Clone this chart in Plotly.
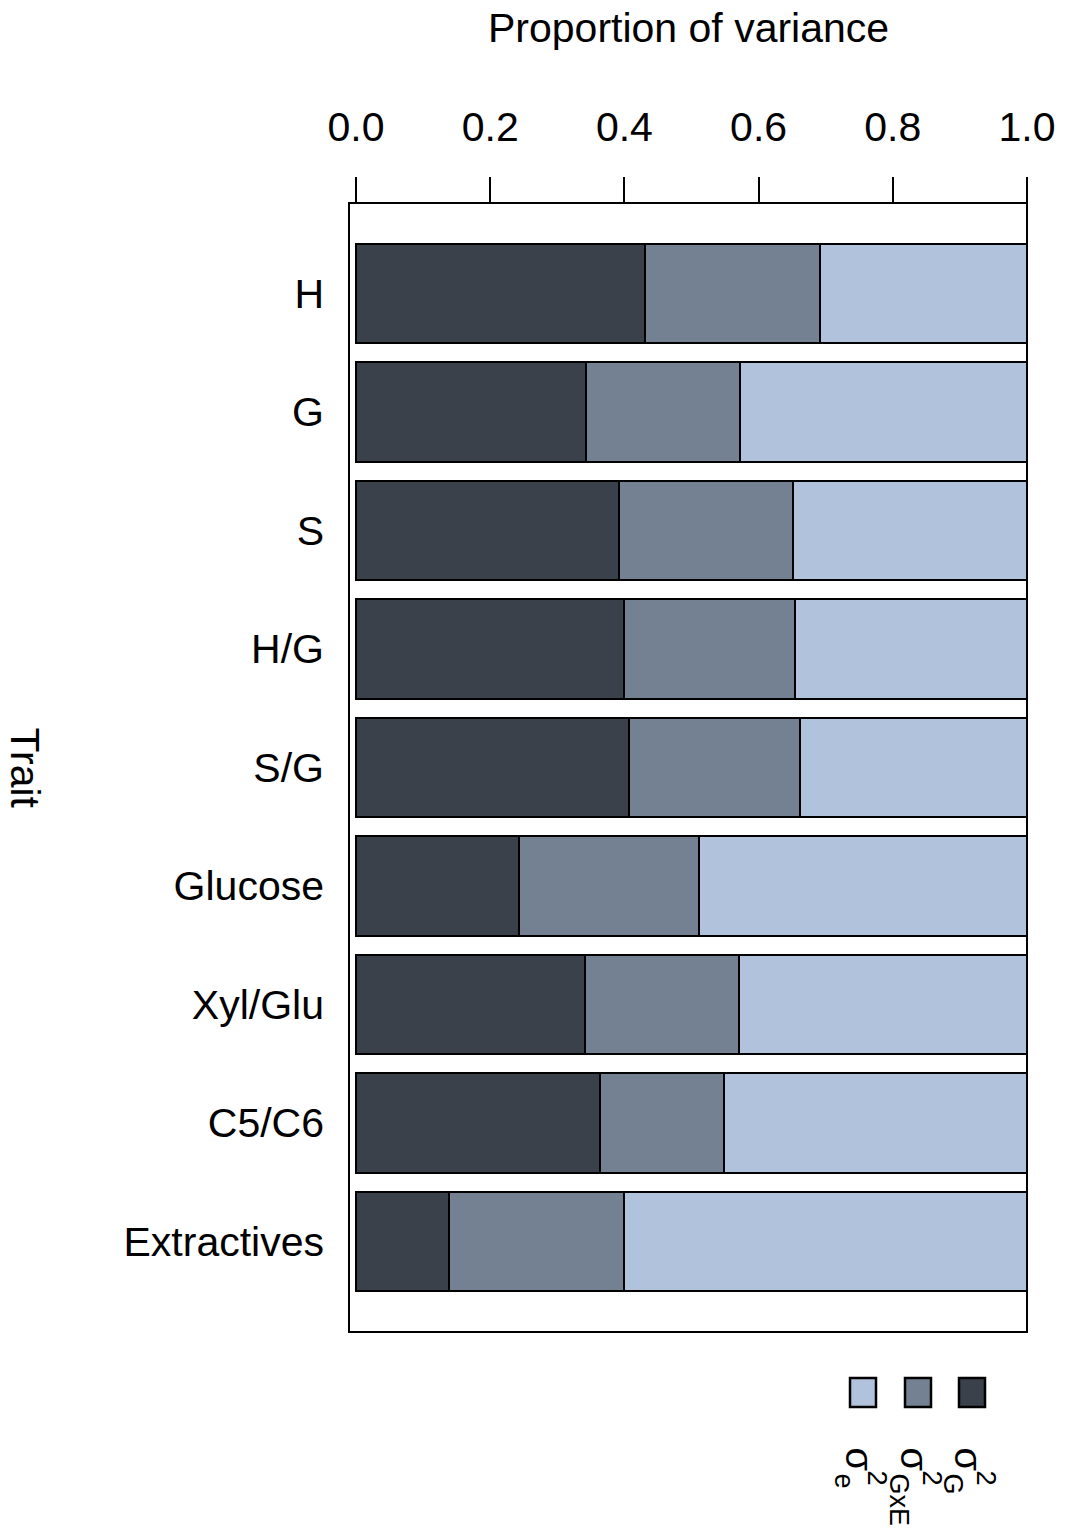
import plotly.graph_objects as go

# Variance components per trait (proportions of total variance)
traits = ["H", "G", "S", "H/G", "S/G", "Glucose", "Xyl/Glu", "C5/C6", "Extractives"]
var_g = [0.431, 0.343, 0.392, 0.399, 0.407, 0.243, 0.341, 0.363, 0.139]
var_gxe = [0.261, 0.229, 0.259, 0.255, 0.255, 0.268, 0.230, 0.186, 0.260]
var_e = [round(1 - a - b, 3) for a, b in zip(var_g, var_gxe)]

x_ticks = [0.0, 0.2, 0.4, 0.6, 0.8, 1.0]
x_tick_labels = ["0.0", "0.2", "0.4", "0.6", "0.8", "1.0"]

col_g = "#3a414b"
col_gxe = "#748193"
col_e = "#b0c2dc"

FONT = "Liberation Sans, Arial, sans-serif"
FS = 41

fig = go.Figure()
for vals, col, name in [(var_g, col_g, "G"), (var_gxe, col_gxe, "GxE"), (var_e, col_e, "e")]:
    fig.add_trace(go.Bar(
        y=traits, x=vals, orientation="h", name=name,
        marker=dict(color=col, line=dict(color="black", width=2)),
        width=0.84, showlegend=False,
    ))

# plot area in pixels: x 349..1027, y 203..1332
L, R, T, B = 349, 1027, 203, 1332
W, H = 1068, 1535

def px_x(p):
    return (p - L) / (R - L)

def px_y(p):
    return (B - p) / (B - T)

shapes = [dict(type="rect", xref="paper", yref="paper", x0=0, x1=1, y0=0, y1=1,
               line=dict(color="black", width=2), fillcolor="rgba(0,0,0,0)", layer="above")]

annotations = [
    dict(text="Proportion of variance", xref="paper", yref="paper", x=0.5, y=px_y(28),
         showarrow=False, font=dict(size=FS, color="black", family=FONT),
         xanchor="center", yanchor="middle"),
    dict(text="Trait", xref="paper", yref="paper", x=px_x(0), y=0.5, textangle=90,
         showarrow=False, font=dict(size=FS, color="black", family=FONT),
         xanchor="left", yanchor="middle"),
]

# legend keys and rotated sigma labels
legend_items = [(col_e, "e", 863), (col_gxe, "GxE", 918), (col_g, "G", 972)]
for col, sub, cx in legend_items:
    shapes.append(dict(type="rect", xref="paper", yref="paper",
                       x0=px_x(cx - 13), x1=px_x(cx + 13), y0=px_y(1407), y1=px_y(1378),
                       line=dict(color="black", width=2.5), fillcolor=col))
    annotations.append(dict(text="σ", xref="paper", yref="paper", x=px_x(cx - 4), y=px_y(1445),
                            textangle=90, showarrow=False, xanchor="center", yanchor="top",
                            font=dict(size=38, color="black", family=FONT)))
    annotations.append(dict(text="2", xref="paper", yref="paper", x=px_x(cx + 14), y=px_y(1468),
                            textangle=90, showarrow=False, xanchor="center", yanchor="top",
                            font=dict(size=27, color="black", family=FONT)))
    annotations.append(dict(text=sub, xref="paper", yref="paper", x=px_x(cx - 19), y=px_y(1471),
                            textangle=90, showarrow=False, xanchor="center", yanchor="top",
                            font=dict(size=27, color="black", family=FONT)))

fig.update_layout(
    barmode="stack",
    width=W, height=H,
    margin=dict(l=L, r=W - R, t=T, b=H - B, pad=0),
    plot_bgcolor="white", paper_bgcolor="white",
    font=dict(family=FONT, color="black"),
    shapes=shapes, annotations=annotations,
    xaxis=dict(
        side="top", range=[-7 / 671, 1.0], tickvals=x_ticks, ticktext=x_tick_labels,
        ticks="outside", ticklen=25, tickwidth=2, tickcolor="black",
        tickfont=dict(size=FS, family=FONT, color="black"),
        ticklabelstandoff=20,
        showgrid=False, zeroline=False, showline=False,
    ),
    yaxis=dict(
        categoryorder="array", categoryarray=traits, autorange=False,
        range=[8.765, -0.765],
        ticks="", showgrid=False, zeroline=False, showline=False,
        tickfont=dict(size=FS, family=FONT, color="black"),
        ticklabelstandoff=24,
    ),
)

fig.write_html("out.html")
